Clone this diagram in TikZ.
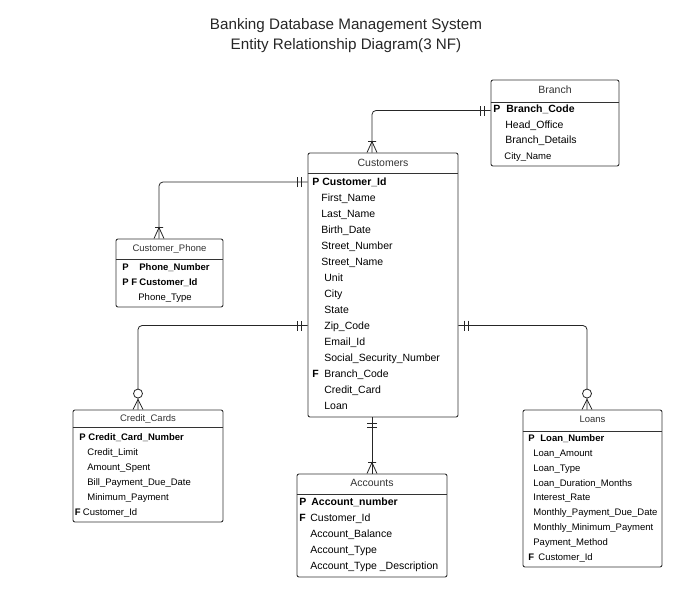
\documentclass[tikz,border=0pt]{standalone}
\usepackage{fontspec}
\setmainfont{Liberation Sans}
\usetikzlibrary{positioning}

\begin{document}
\begin{tikzpicture}[x=1pt, y=-1pt,  % pixel coordinates, y grows downwards
    line width=0.8pt,
    entity/.style={draw=black!80, rounded corners=2pt, line width=0.9pt, inner sep=0pt},
    divider/.style={draw=black!80, line width=0.9pt},
    ehead/.style={inner sep=0pt, text=black!80, font=\fontsize{10.5}{12}\selectfont},
    shead/.style={ehead, font=\fontsize{9.5}{11}\selectfont},
    attr/.style={anchor=west, inner sep=0pt, text height=7.5pt, text depth=0pt, font=\fontsize{10.5}{12}\selectfont},
    key/.style={attr, font=\fontsize{10.5}{12}\selectfont\bfseries},
    sattr/.style={attr, text height=6.8pt, font=\fontsize{9.5}{11}\selectfont},
    skey/.style={sattr, font=\fontsize{9.5}{11}\selectfont\bfseries},
    rel/.style={draw=black!85, rounded corners=4pt},
    onlyone/.pic={\draw[black!85] (-5,-6) -- (5,-6) (-5,-10) -- (5,-10);},
    onemany/.pic={\draw[black!85] (-5,0) -- (0,-11) -- (5,0) (-4,-11) -- (4,-11);},
    zeromany/.pic={\draw[black!85] (-5,0) -- (0,-10) -- (5,0); \draw[black!85, fill=white] (0,-16) circle (4.5pt);}
    ]

    \fill[white] (0,0) rectangle (697,592);
    \useasboundingbox (0,0) rectangle (697,592);

    \node (title) [align=center, text=black!85, font=\fontsize{15.2}{20}\selectfont] at (346,36)
        {Banking Database Management System\\ Entity Relationship Diagram(3 NF)};

    % entity boxes
    \node (branch) [entity, minimum width=128pt, minimum height=86pt] at (555,123) {};
    \node (customers) [entity, minimum width=150pt, minimum height=264pt] at (383,285) {};
    \node (phone) [entity, minimum width=107pt, minimum height=68pt] at (169.5,273) {};
    \node (cards) [entity, minimum width=150pt, minimum height=112pt] at (148,466) {};
    \node (accounts) [entity, minimum width=150pt, minimum height=103pt] at (372,525.5) {};
    \node (loans) [entity, minimum width=139pt, minimum height=157pt] at (592.5,488.5) {};

    \draw [divider] ([yshift=-23pt]branch.north west) -- ([yshift=-23pt]branch.north east);
    \draw [divider] ([yshift=-21pt]customers.north west) -- ([yshift=-21pt]customers.north east);
    \draw [divider] ([yshift=-21pt]phone.north west) -- ([yshift=-21pt]phone.north east);
    \draw [divider] ([yshift=-18pt]cards.north west) -- ([yshift=-18pt]cards.north east);
    \draw [divider] ([yshift=-21pt]accounts.north west) -- ([yshift=-21pt]accounts.north east);
    \draw [divider] ([yshift=-22pt]loans.north west) -- ([yshift=-22pt]loans.north east);

    % Branch
    \node (branch-h) [ehead] at ([yshift=-10pt]branch.north) {Branch};
    \node (bcode-p) [key] at (493,109) {P};
    \node (bcode) [key] at (506,109) {Branch\_Code};
    \node (bhead) [attr] at (505,125) {Head\_Office};
    \node (bdet) [attr] at (505,140) {Branch\_Details};
    \node (bcity) [sattr] at (504,156) {City\_Name};

    % Customers
    \node (customers-h) [ehead] at ([yshift=-10pt]customers.north) {Customers};
    \node (cid-p) [key] at (312,182) {P};
    \node (cid) [key] at (322,182) {Customer\_Id};
    \foreach \t [count=\i] in {First\_Name, Last\_Name, Birth\_Date, Street\_Number, Street\_Name}
        \node (cust-\i) [attr] at (321,182+15.95*\i) {\t};
    \foreach \t [count=\i from 6] in {Unit, City, State, Zip\_Code, Email\_Id, Social\_Security\_Number}
        \node (cust-\i) [attr] at (324,182+15.95*\i) {\t};
    \node (cbr-f) [key] at (312,373.5) {F};
    \node (cbr) [attr] at (324,373.5) {Branch\_Code};
    \node (cust-13) [attr] at (324,389.5) {Credit\_Card};
    \node (cust-14) [attr] at (324,405.5) {Loan};

    % Customer_Phone
    \node (phone-h) [shead] at ([yshift=-10pt]phone.north) {Customer\_Phone};
    \node (pnum-p) [skey] at (122,267) {P};
    \node (pnum) [skey] at (139,267) {Phone\_Number};
    \node (pcid-p) [skey] at (122,282) {P F};
    \node (pcid) [skey] at (139,282) {Customer\_Id};
    \node (ptype) [sattr] at (138,297) {Phone\_Type};

    % Credit_Cards
    \node (cards-h) [shead] at ([yshift=-9pt]cards.north) {Credit\_Cards};
    \node (ccn-p) [skey] at (79,437) {P};
    \node (ccn) [skey] at (88,437) {Credit\_Card\_Number};
    \foreach \t [count=\i] in {Credit\_Limit, Amount\_Spent, Bill\_Payment\_Due\_Date, Minimum\_Payment}
        \node (card-\i) [sattr] at (87,437+15*\i) {\t};
    \node (ccid-f) [skey] at (74.5,512) {F};
    \node (ccid) [sattr] at (82.5,512) {Customer\_Id};

    % Accounts
    \node (accounts-h) [ehead] at ([yshift=-9.5pt]accounts.north) {Accounts};
    \node (anum-p) [key] at (299,502) {P};
    \node (anum) [key] at (311,502) {Account\_number};
    \node (acid-f) [key] at (299,518) {F};
    \node (acid) [attr] at (310,518) {Customer\_Id};
    \node (abal) [attr] at (310,534) {Account\_Balance};
    \node (atype) [attr] at (310,550) {Account\_Type};
    \node (adesc) [attr] at (310,566) {Account\_Type \_Description};

    % Loans
    \node (loans-h) [shead] at ([yshift=-10pt]loans.north) {Loans};
    \node (lnum-p) [skey] at (528,438) {P};
    \node (lnum) [skey] at (540,438) {Loan\_Number};
    \foreach \t [count=\i] in {Loan\_Amount, Loan\_Type, Loan\_Duration\_Months, Interest\_Rate,
        Monthly\_Payment\_Due\_Date, Monthly\_Minimum\_Payment, Payment\_Method}
        \node (loan-\i) [sattr] at (533,438+14.87*\i) {\t};
    \node (lcid-f) [skey] at (528,557) {F};
    \node (lcid) [sattr] at (538,557) {Customer\_Id};

    % relationships
    \draw [rel] ([yshift=-1.5pt]branch.west |- bcode.west) -| ([xshift=-11pt]customers.north);
    \draw [rel] (customers.west |- cid.west) -| ([xshift=-10.5pt]phone.north);
    \draw [rel] (customers.west |- cust-9.west) -| ([xshift=-10pt]cards.north);
    \draw [rel] (customers.east |- cust-9.west) -| ([xshift=-5.5pt]loans.north);
    \draw [rel] ([xshift=-11pt]customers.south) -- (accounts.north);

    \path ([yshift=-1.5pt]branch.west |- bcode.west) pic[rotate=90] {onlyone}
          ([xshift=-11pt]customers.north) pic {onemany};
    \path (customers.west |- cid.west) pic[rotate=90] {onlyone}
          ([xshift=-10.5pt]phone.north) pic {onemany};
    \path (customers.west |- cust-9.west) pic[rotate=90] {onlyone}
          ([xshift=-10pt]cards.north) pic {zeromany};
    \path (customers.east |- cust-9.west) pic[rotate=-90] {onlyone}
          ([xshift=-5.5pt]loans.north) pic {zeromany};
    \path ([xshift=-11pt]customers.south) pic[rotate=180] {onlyone}
          (accounts.north) pic {onemany};

\end{tikzpicture}
\end{document}
